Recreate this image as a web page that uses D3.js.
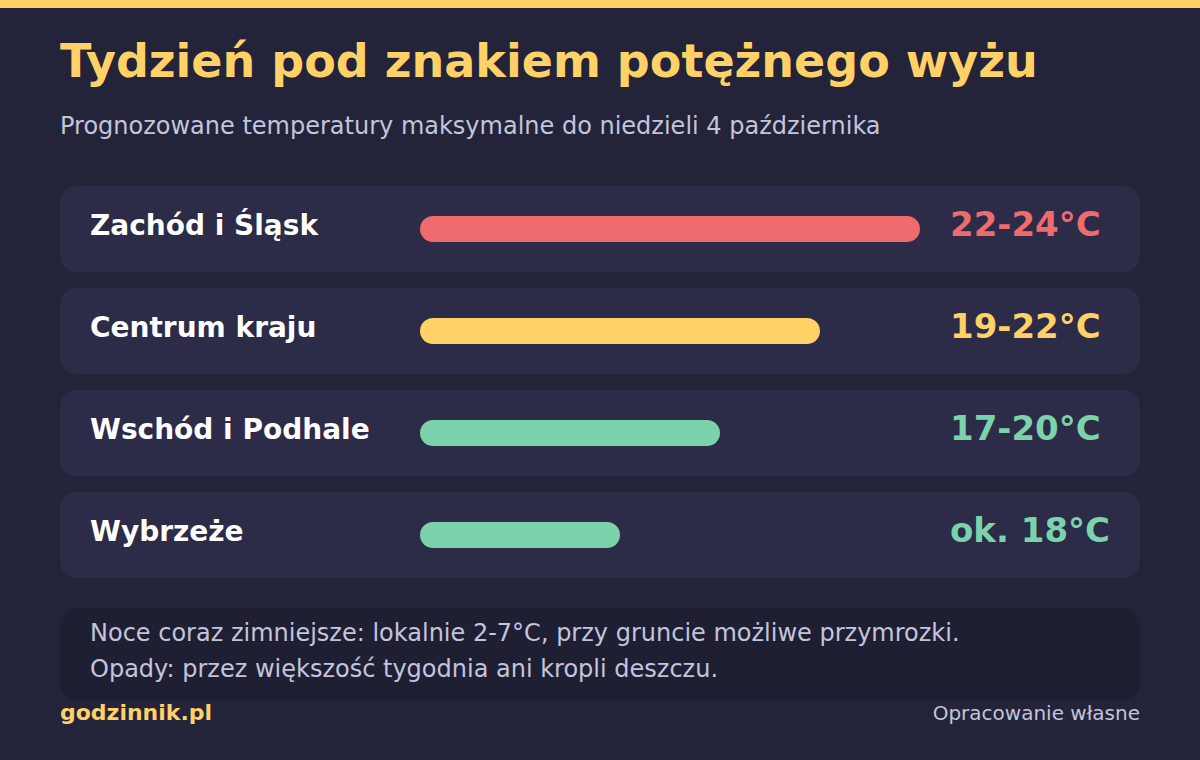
<!DOCTYPE html>
<html><head><meta charset="utf-8">
<script src="https://cdn.jsdelivr.net/npm/d3@7"></script>
<style>html,body{margin:0;padding:0;background:#23233a;}</style>
</head><body><svg id="c" width="1200" height="760" font-family="DejaVu Sans" style="display:block"></svg>
<script>
const regions = ["Zachód i Śląsk", "Centrum kraju", "Wschód i Podhale", "Wybrzeże"];
const maxTemps = [24, 22, 20, 18];
const valueLabels = ["22-24°C", "19-22°C", "17-20°C", "ok. 18°C"];
const barColors = ["#ef6b6e", "#ffd166", "#7bd3ab", "#7bd3ab"];
const title = "Tydzień pod znakiem potężnego wyżu";
const subtitle = "Prognozowane temperatury maksymalne do niedzieli 4 października";
const notes = ["Noce coraz zimniejsze: lokalnie 2-7°C, przy gruncie możliwe przymrozki.", "Opady: przez większość tygodnia ani kropli deszczu."];
const brand = "godzinnik.pl";
const source = "Opracowanie własne";

const FONT = "'DejaVu Sans', sans-serif";
const svg = d3.select("#c");
svg.append("rect").attr("width",1200).attr("height",760).attr("fill","#23233a");
svg.append("rect").attr("width",1200).attr("height",8).attr("fill","#ffd166");
svg.append("text").attr("x",60).attr("y",77).attr("font-family",FONT).attr("font-size",46).attr("font-weight","bold").attr("fill","#ffd166").text(title);
svg.append("text").attr("x",60).attr("y",134).attr("font-family",FONT).attr("font-size",24).attr("fill","#c4c4dc").text(subtitle);

const y = d3.scaleBand().domain(regions).range([186, 186 + 102*4 - 16]).paddingInner(16/102).paddingOuter(0);
const x = d3.scaleLinear().domain([14, 24]).range([0, 500]);

const rows = svg.selectAll("g.row").data(regions).join("g").attr("class","row")
  .attr("transform", d => `translate(0,${y(d)})`);
rows.append("rect").attr("x",60).attr("width",1080).attr("height",y.bandwidth()).attr("rx",16).attr("fill","#2c2b48");
rows.append("text").attr("x",90).attr("y",49).attr("font-family",FONT).attr("font-size",28).attr("font-weight","bold").attr("fill","#ffffff").text(d=>d);
rows.append("rect").attr("x",420).attr("y",30).attr("height",26).attr("rx",13)
  .attr("width",(d,i)=>x(maxTemps[i])).attr("fill",(d,i)=>barColors[i]);
rows.append("text").attr("x",950).attr("y",50).attr("font-family",FONT).attr("font-size",34).attr("font-weight","bold")
  .attr("fill",(d,i)=>barColors[i]).text((d,i)=>valueLabels[i]);

svg.append("rect").attr("x",60).attr("y",608).attr("width",1080).attr("height",92).attr("rx",16).attr("fill","#1f1f33");
svg.selectAll("text.note").data(notes).join("text").attr("class","note")
  .attr("x",90).attr("y",(d,i)=>641+i*35.5).attr("font-family",FONT).attr("font-size",24).attr("fill","#c4c4dc").text(d=>d);
svg.append("text").attr("x",60).attr("y",720).attr("font-family",FONT).attr("font-size",22).attr("font-weight","bold").attr("fill","#ffd166").text(brand);
svg.append("text").attr("x",1140).attr("y",720).attr("text-anchor","end").attr("font-family",FONT).attr("font-size",20).attr("fill","#c4c4dc").text(source);
</script></body></html>
